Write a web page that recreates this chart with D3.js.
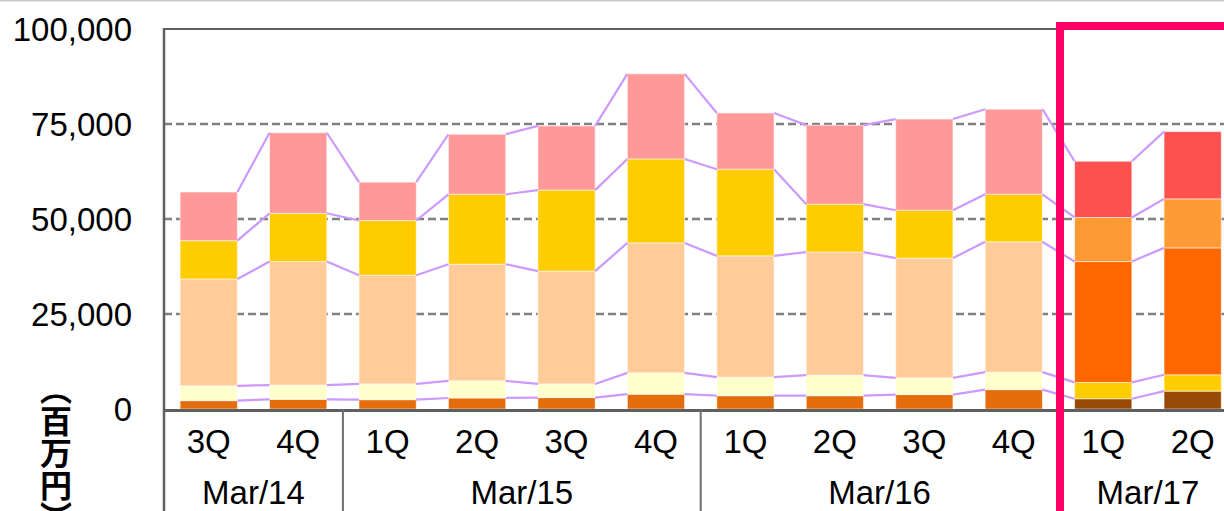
<!DOCTYPE html>
<html>
<head>
<meta charset="utf-8">
<script src="https://cdn.jsdelivr.net/npm/d3@7/dist/d3.min.js"></script>
<style>
  html, body { margin: 0; padding: 0; background: #fff; }
  svg { display: block; }
</style>
</head>
<body>
<svg id="chart" width="1224" height="511"></svg>
<script>
// Quarterly figures (百万円), stacked bottom to top
const quarters = ["3Q","4Q","1Q","2Q","3Q","4Q","1Q","2Q","3Q","4Q","1Q","2Q"];
const fiscalYears = ["Mar/14","Mar/15","Mar/16","Mar/17"];
const quartersPerYear = [2, 4, 4, 2];

const segA = [2200, 2550, 2450, 2900, 3000, 3900, 3500, 3500, 3800, 5100, 2700, 4700];
const segB = [3900, 3750, 4150, 4500, 3600, 5600, 4900, 5400, 4400, 4600, 4300, 4300];
const segC = [28100, 32500, 28600, 30700, 29700, 34200, 31900, 32400, 31500, 34300, 31800, 33400];
const segD = [10100, 12700, 14400, 18400, 21300, 22100, 22800, 12600, 12600, 12500, 11600, 12900];
const segE = [12800, 21200, 10100, 15800, 16900, 22400, 14800, 20800, 24000, 22400, 14800, 17700];

const yTicks = [0, 25000, 50000, 75000, 100000];
const yUnit = "（百万円）";
// first quarter of the highlighted fiscal year
const highlightStart = 10;

const series = [segA, segB, segC, segD, segE];
const colorsPast = ["#E46C0A", "#FFFFCC", "#FFCC99", "#FFCC00", "#FF9999"];
const colorsCurrent = ["#984807", "#FFCC00", "#FF6600", "#FF9933", "#FF5050"];

const svg = d3.select("#chart");
const W = 1224, H = 511;
const plotLeft = 164, plotTop = 29, plotBottom = 409;
const step = 89.45;
const labelFont = "'Liberation Sans', Arial, sans-serif";
const labelSize = 33;

const x = d3.scaleBand()
  .domain(d3.range(quarters.length))
  .range([plotLeft, plotLeft + step * quarters.length])
  .paddingInner(0.36)
  .paddingOuter(0.18);

const y = d3.scaleLinear().domain([0, 100000]).range([plotBottom, plotTop]);

// stacked layout
const rows = quarters.map((q, i) => {
  const r = { i };
  series.forEach((s, k) => r["s" + k] = s[i]);
  return r;
});
const stack = d3.stack().keys(series.map((s, k) => "s" + k));
const layers = stack(rows);

// gridlines
svg.append("g")
  .selectAll("line")
  .data(yTicks.filter(t => t > 0 && t < 100000))
  .join("line")
  .attr("x1", plotLeft).attr("x2", W)
  .attr("y1", d => y(d)).attr("y2", d => y(d))
  .attr("stroke", "#808080")
  .attr("stroke-width", 2.5)
  .attr("stroke-dasharray", "8,4");

// bars
const gBars = svg.append("g");
layers.forEach((layer, k) => {
  gBars.append("g")
    .selectAll("rect")
    .data(layer)
    .join("rect")
    .attr("x", (d, i) => x(i))
    .attr("width", x.bandwidth())
    .attr("y", d => y(d[1]))
    .attr("height", d => y(d[0]) - y(d[1]))
    .attr("fill", (d, i) => i >= highlightStart ? colorsCurrent[k] : colorsPast[k])
    .attr("stroke", "rgba(255,255,255,0.55)")
    .attr("stroke-width", 1);
});

// series lines joining the segment tops of neighbouring bars
const gLines = svg.append("g");
layers.forEach(layer => {
  gLines.append("g")
    .selectAll("line")
    .data(d3.range(layer.length - 1))
    .join("line")
    .attr("x1", i => x(i) + x.bandwidth())
    .attr("y1", i => y(layer[i][1]))
    .attr("x2", i => x(i + 1))
    .attr("y2", i => y(layer[i + 1][1]))
    .attr("stroke", "#CC99FF")
    .attr("stroke-width", 2.2);
});

// frame
svg.append("line")
  .attr("x1", 0).attr("x2", W).attr("y1", 0.5).attr("y2", 0.5)
  .attr("stroke", "#c8c8c8").attr("stroke-width", 2);
svg.append("line")
  .attr("x1", plotLeft - 1).attr("x2", W).attr("y1", plotTop).attr("y2", plotTop)
  .attr("stroke", "#5f5f5f").attr("stroke-width", 2);
svg.append("line")
  .attr("x1", plotLeft).attr("x2", plotLeft).attr("y1", plotTop - 1).attr("y2", H)
  .attr("stroke", "#5f5f5f").attr("stroke-width", 2.5);
svg.append("line")
  .attr("x1", plotLeft).attr("x2", W).attr("y1", plotBottom + 1.5).attr("y2", plotBottom + 1.5)
  .attr("stroke", "#5f5f5f").attr("stroke-width", 3);

// y axis labels
const yAxis = d3.axisLeft(y).tickValues(yTicks).tickFormat(d3.format(",")).tickSize(0).tickPadding(0);
const gy = svg.append("g").attr("transform", `translate(132,0)`).call(yAxis);
gy.select(".domain").remove();
gy.selectAll("text")
  .attr("x", 0)
  .attr("dy", "0.36em")
  .attr("font-family", labelFont)
  .attr("font-size", labelSize)
  .attr("fill", "#000");

// unit label, vertical
svg.append("text")
  .attr("x", 56).attr("y", 373)
  .style("writing-mode", "vertical-rl")
  .attr("font-family", "'Noto Sans CJK JP', sans-serif")
  .attr("font-weight", "bold")
  .attr("font-size", 32)
  .attr("fill", "#000")
  .text(yUnit);

// quarter labels
const xAxis = d3.axisBottom(x).tickFormat(i => quarters[i]).tickSize(0).tickPadding(0);
const gx = svg.append("g").attr("transform", `translate(0,${plotBottom})`).call(xAxis);
gx.select(".domain").remove();
gx.selectAll("text")
  .attr("y", 44)
  .attr("dy", 0)
  .attr("font-family", labelFont)
  .attr("font-size", labelSize)
  .attr("fill", "#000");

// fiscal year groups
let start = 0;
const groups = fiscalYears.map((name, g) => {
  const s = start; start += quartersPerYear[g];
  return { name, first: s, last: start - 1 };
});
const groupX0 = g => x(g.first) - x.step() * x.paddingInner() / 2;
const groupX1 = g => x(g.last) + x.bandwidth() + x.step() * x.paddingInner() / 2;

svg.append("g")
  .selectAll("line")
  .data(groups.slice(1))
  .join("line")
  .attr("x1", groupX0).attr("x2", groupX0)
  .attr("y1", plotBottom).attr("y2", H)
  .attr("stroke", "#6d6d6d").attr("stroke-width", 2);

svg.append("g")
  .selectAll("text")
  .data(groups)
  .join("text")
  .attr("x", g => (groupX0(g) + groupX1(g)) / 2)
  .attr("y", 504)
  .attr("text-anchor", "middle")
  .attr("font-family", labelFont)
  .attr("font-size", labelSize)
  .attr("fill", "#000")
  .text(g => g.name);

// highlight box around the current fiscal year
const hg = groups[groups.length - 1];
svg.append("rect")
  .attr("x", groupX0(hg) + 1.5)
  .attr("y", 26)
  .attr("width", 400)
  .attr("height", 600)
  .attr("fill", "none")
  .attr("stroke", "#FF0066")
  .attr("stroke-width", 8);
</script>
</body>
</html>
